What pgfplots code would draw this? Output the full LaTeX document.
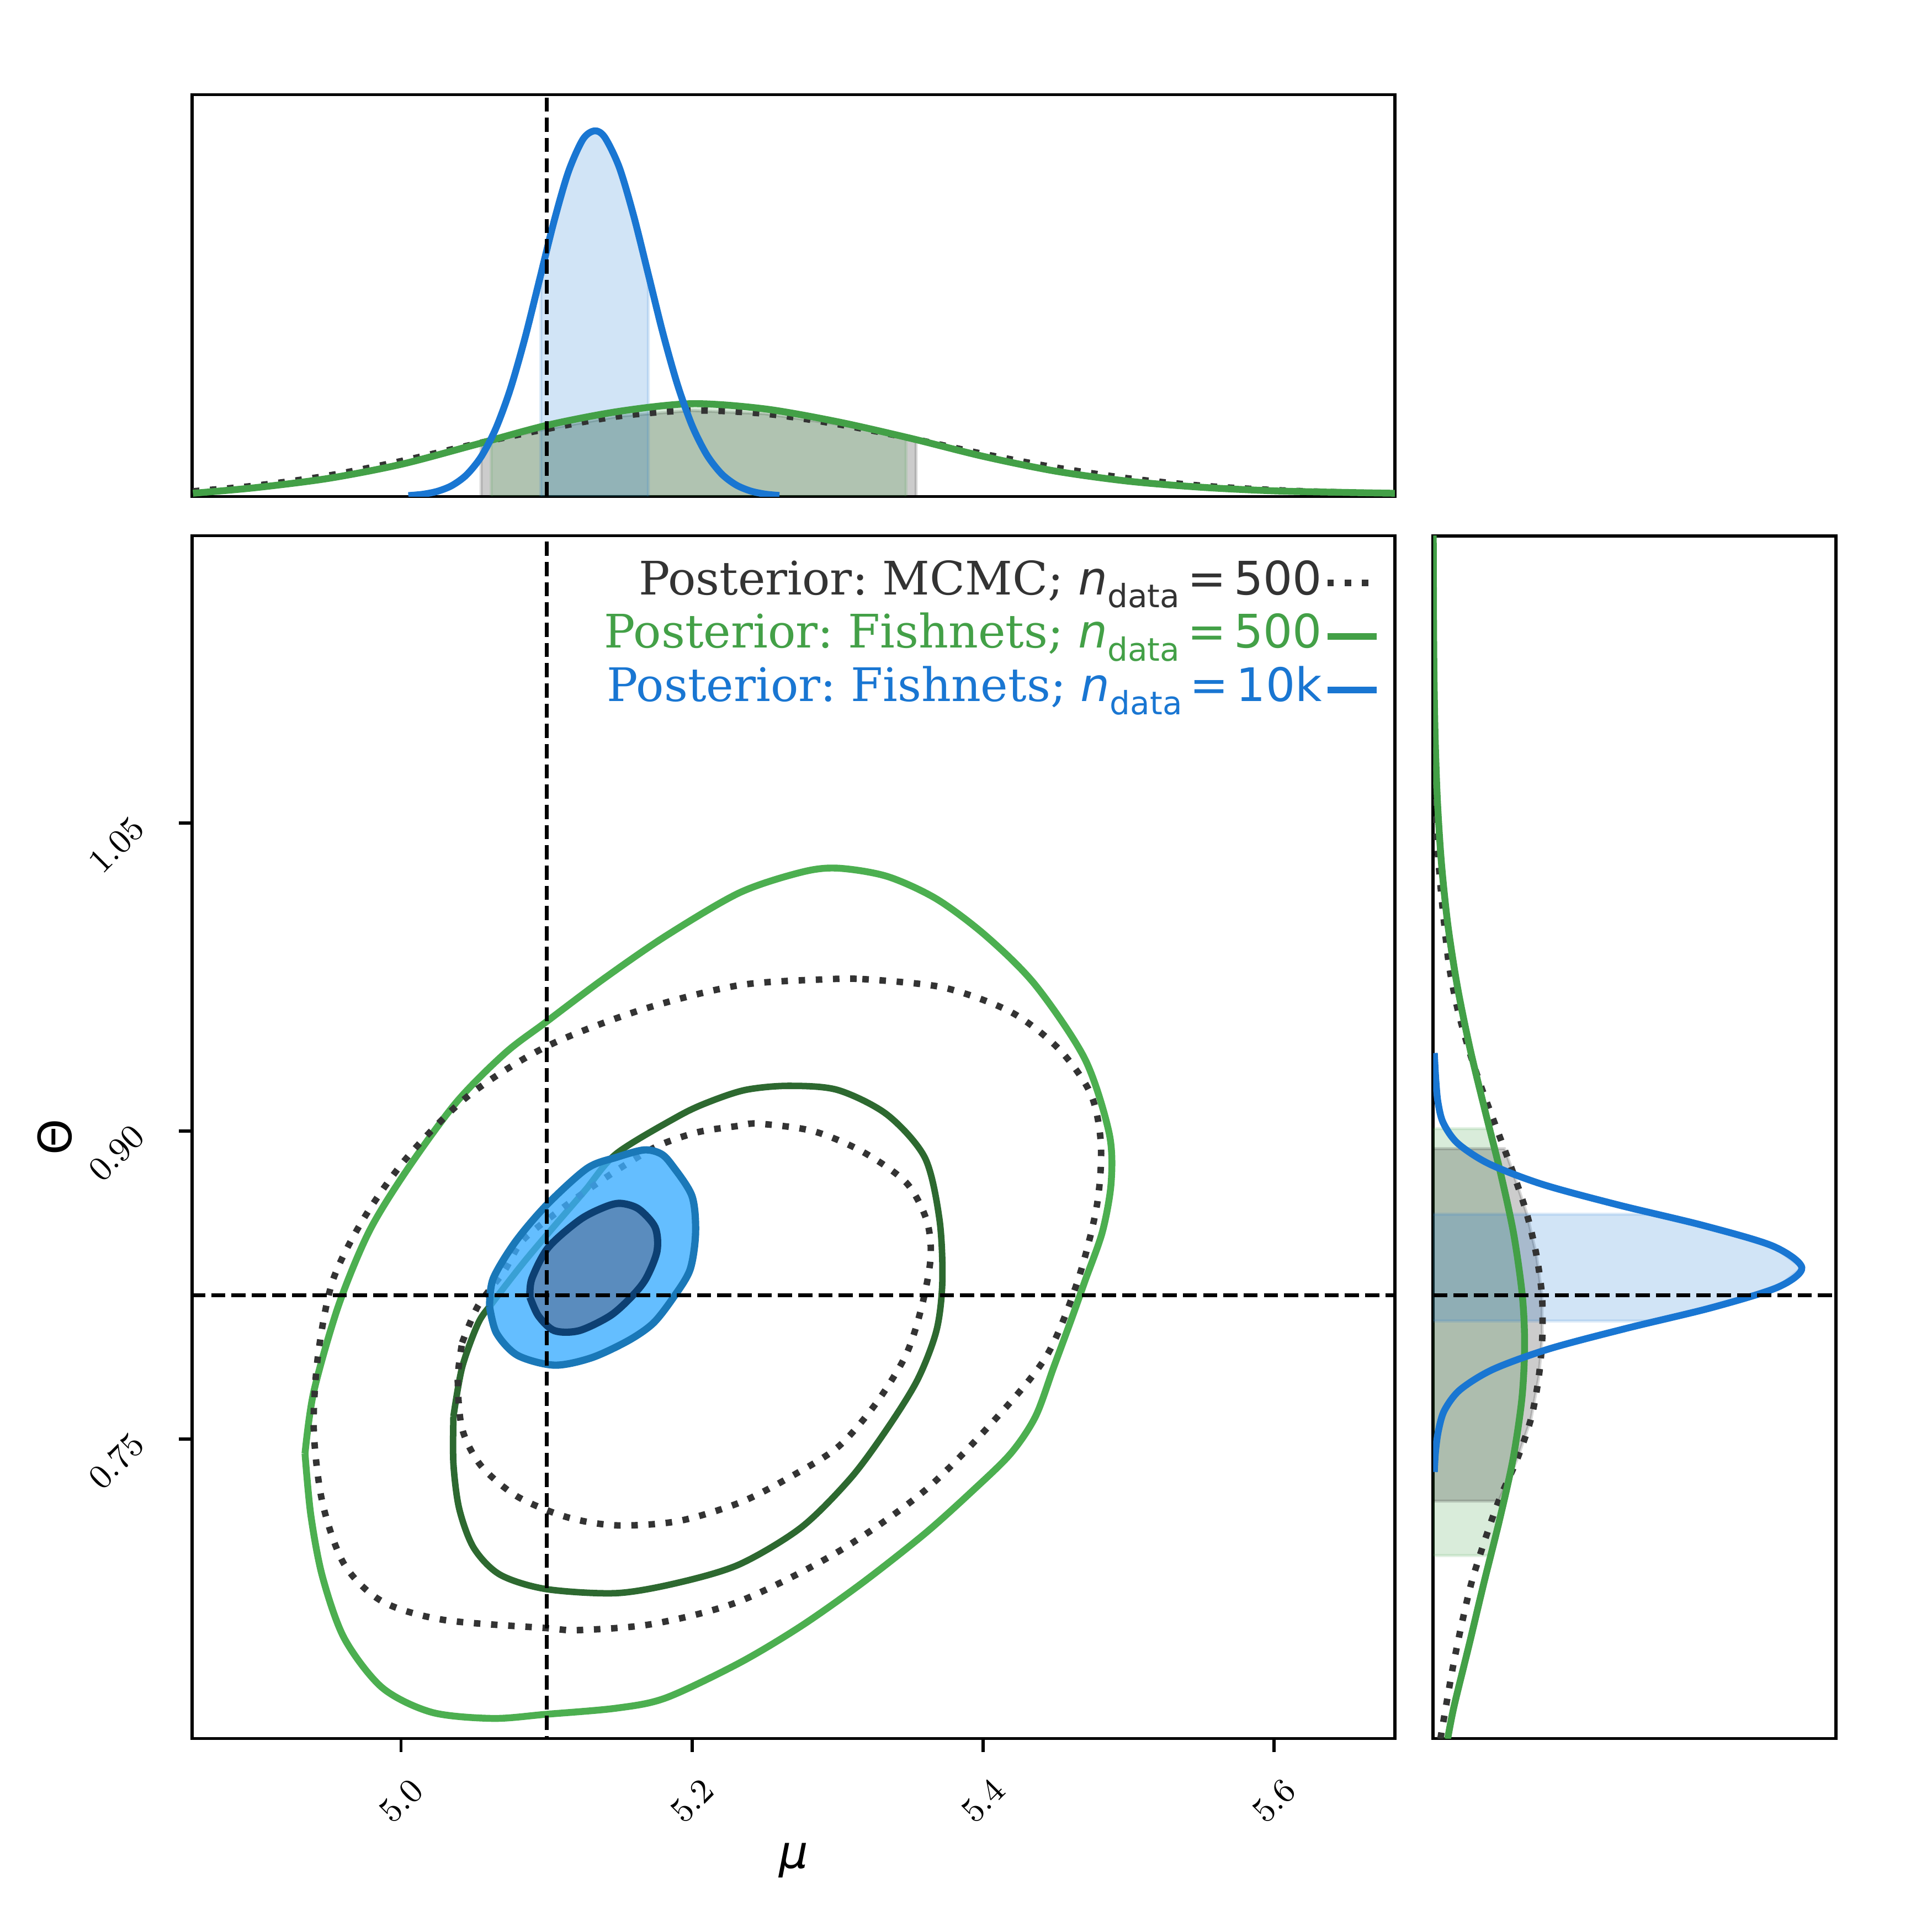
\documentclass[border=0pt]{standalone}
\usepackage{fontspec}
\setmainfont{DejaVu Serif}
\newfontfamily\dvs{DejaVu Sans}
\usepackage{pgfplots}
\pgfplotsset{compat=1.18}
\frenchspacing

\definecolor{mcmc}{RGB}{51,51,51}
\definecolor{fishgreen}{RGB}{67,160,71}
\definecolor{fishblue}{RGB}{25,118,210}
\definecolor{ctrgreen}{RGB}{76,175,80}
\definecolor{ctrdkgreen}{RGB}{45,105,48}
\definecolor{bluefillA}{RGB}{61,174,255}
\definecolor{blueedgeA}{RGB}{26,120,184}
\definecolor{bluefillB}{RGB}{90,140,190}
\definecolor{blueedgeB}{RGB}{13,64,115}

\newcommand{\ndata}[1]{{\dvs\itshape n}\raisebox{-0.28em}{\dvs\fontsize{8.4}{9}\selectfont data}{\dvs\,=\,#1}}

\pgfplotsset{
  panel/.style={scale only axis, axis line style={line width=0.8pt}, tick style={black, line width=0.8pt}},
  mcmcline/.style={mcmc, line width=1.7pt, dash pattern=on 1.7pt off 2.8pt},
  truth/.style={black, line width=1pt, dash pattern=on 3.7pt off 1.6pt},
}

\begin{document}
\begin{tikzpicture}
\path[use as bounding box] (-50.33pt,-50.65pt) rectangle (455.5pt,455.2pt);

% ---------------- main 2D panel ----------------
\begin{axis}[panel,
  at={(0pt,0pt)}, anchor=south west,
  width=314.9pt, height=314.9pt,
  xmin=4.8565, xmax=5.683, ymin=0.6042, ymax=1.1898,
  xtick={5.0,5.2,5.4,5.6}, ytick={0.75,0.90,1.05},
  tick align=outside, xtick pos=left, ytick pos=left,
  major tick length=3.5pt,
  xticklabel style={/pgf/number format/fixed, /pgf/number format/fixed zerofill, /pgf/number format/precision=1,
    font=\fontsize{9}{10}\selectfont, yshift=-12.8pt, rotate=45, anchor=center},
  yticklabel style={/pgf/number format/fixed, /pgf/number format/fixed zerofill, /pgf/number format/precision=2,
    font=\fontsize{9}{10}\selectfont, xshift=-16.3pt, yshift=-5.8pt, rotate=45, anchor=center},
  xlabel={{\dvs\itshape μ}}, ylabel={{\dvs Θ}},
  xlabel style={at={(axis description cs:0.5,-0.1016)}, anchor=center, font=\fontsize{12}{14}\selectfont},
  ylabel style={at={(axis description cs:-0.1143,0.5)}, anchor=center, font=\fontsize{12}{14}\selectfont},
  legend cell align=right, legend plot pos=right,
  legend image code/.code={\draw[#1] (0pt,0pt) -- (12.9pt,0pt);},
  legend style={at={(axis description cs:0.9883,0.982)}, anchor=north east, draw=none, fill=none,
    inner sep=0pt, row sep=1pt, column sep=0.5pt, font=\fontsize{12.1}{14}\selectfont,
    nodes={inner sep=0pt, text height=9.5pt, text depth=3.5pt}},
]
\addlegendimage{mcmcline}
\addlegendentry{\textcolor{mcmc}{Posterior: MCMC; \ndata{500}}}
\addlegendimage{fishgreen, line width=1.8pt}
\addlegendentry{\textcolor{fishgreen}{Posterior: Fishnets; \ndata{500}}}
\addlegendimage{fishblue, line width=1.8pt}
\addlegendentry{\textcolor{fishblue}{Posterior: Fishnets; \ndata{10k}}}

% Fishnets n=500, outer contour
\addplot[ctrgreen, line width=1.8pt, smooth, forget plot] coordinates {
(4.934,0.743) (4.938,0.713) (4.946,0.683) (4.961,0.653) (4.987,0.629) (5.021,0.617)
(5.063,0.614) (5.0995,0.616) (5.148,0.619) (5.182,0.624) (5.2325,0.641) (5.275,0.659)
(5.317,0.680) (5.360,0.704) (5.393,0.725) (5.419,0.743) (5.436,0.761) (5.4485,0.785)
(5.461,0.809) (5.470,0.827) (5.482,0.851) (5.488,0.875) (5.4866,0.899) (5.470,0.935)
(5.436,0.971) (5.402,0.995) (5.368,1.013) (5.334,1.024) (5.300,1.028) (5.275,1.026)
(5.2325,1.016) (5.182,0.995) (5.139,0.974) (5.0995,0.953) (5.0716,0.938) (5.038,0.914)
(5.004,0.881) (4.978,0.851) (4.957,0.815) (4.940,0.773) (4.934,0.743)
};
% Fishnets n=500, inner contour
\addplot[ctrdkgreen, line width=1.7pt, smooth, forget plot] coordinates {
(5.036,0.761) (5.042,0.785) (5.053,0.8064) (5.063,0.8166) (5.084,0.8358) (5.1047,0.8532)
(5.1266,0.8712) (5.148,0.889) (5.190,0.907) (5.211,0.914) (5.2366,0.920) (5.266,0.922)
(5.300,0.920) (5.334,0.908) (5.360,0.887) (5.370,0.857) (5.372,0.827) (5.368,0.803)
(5.355,0.779) (5.334,0.755) (5.309,0.731) (5.275,0.707) (5.2325,0.689) (5.190,0.680)
(5.148,0.675) (5.0995,0.677) (5.068,0.684) (5.050,0.697) (5.040,0.716) (5.036,0.738)
(5.036,0.761)
};
% MCMC outer contour
\addplot[mcmcline, smooth, forget plot] coordinates {
(5.317,0.974) (5.372,0.970) (5.419,0.958) (5.452,0.940) (5.474,0.918) (5.481,0.893)
(5.478,0.863) (5.465,0.827) (5.444,0.791) (5.410,0.761) (5.360,0.725) (5.300,0.695)
(5.2325,0.671) (5.173,0.660) (5.122,0.657) (5.0995,0.658) (5.029,0.662) (4.987,0.671)
(4.961,0.689) (4.946,0.719) (4.940,0.755) (4.943,0.791) (4.953,0.827) (4.974,0.857)
(5.004,0.887) (5.046,0.917) (5.0995,0.941) (5.165,0.959) (5.2325,0.971) (5.296,0.974)
(5.317,0.974)
};
% MCMC inner contour
\addplot[mcmcline, smooth, forget plot] coordinates {
(5.042,0.797) (5.053,0.815) (5.0707,0.8316) (5.0834,0.8466) (5.1071,0.8604) (5.1292,0.8718)
(5.1520,0.8826) (5.1766,0.8928) (5.2037,0.8994) (5.2308,0.9024) (5.2452,0.9036) (5.283,0.900)
(5.317,0.890) (5.347,0.875) (5.361,0.857) (5.364,0.839) (5.358,0.815) (5.347,0.791)
(5.326,0.767) (5.300,0.746) (5.266,0.731) (5.2325,0.719) (5.190,0.710) (5.148,0.708)
(5.114,0.712) (5.080,0.722) (5.055,0.737) (5.042,0.755) (5.039,0.779) (5.042,0.797)
};
% Fishnets n=10k, filled contours
\addplot[fill=bluefillA, fill opacity=0.8, draw=blueedgeA, line width=1.9pt, smooth, forget plot] coordinates {
(5.0608,0.8146) (5.0633,0.8281) (5.0785,0.846) (5.0999,0.8639) (5.1278,0.8818) (5.148,0.8872)
(5.167,0.8908) (5.1784,0.889) (5.186,0.8836) (5.1999,0.8684) (5.2024,0.8504) (5.1986,0.8325)
(5.1873,0.8191) (5.1734,0.8065) (5.1563,0.798) (5.1309,0.7896) (5.1054,0.786) (5.080,0.7908)
(5.0656,0.8016) (5.0608,0.8146)
};
\addplot[fill=bluefillB, draw=blueedgeB, line width=1.9pt, smooth, forget plot] coordinates {
(5.0886,0.8191) (5.0899,0.8281) (5.1012,0.8433) (5.1227,0.8567) (5.1393,0.8628) (5.1506,0.8648)
(5.1632,0.8621) (5.1746,0.8531) (5.1759,0.8415) (5.1683,0.8281) (5.1581,0.8191) (5.1436,0.810)
(5.1224,0.8028) (5.1054,0.8028) (5.0944,0.810) (5.0886,0.8191)
};
% true values
\addplot[truth, forget plot] coordinates {(5.1,0.5) (5.1,1.3)};
\addplot[truth, forget plot] coordinates {(4.8,0.82) (5.8,0.82)};
\end{axis}

% ---------------- top marginal (mu) ----------------
\begin{axis}[panel,
  at={(0pt,325.2pt)}, anchor=south west,
  width=314.9pt, height=105.2pt,
  xmin=4.8565, xmax=5.683, ymin=0, ymax=1,
  xtick=\empty, ytick=\empty,
]
\addplot[fill=black, fill opacity=0.2, draw=black, draw opacity=0.15, line width=0.8pt] coordinates {
(5.055,0) (5.055,0.134) (5.10,0.168) (5.15,0.200) (5.20,0.214) (5.25,0.206) (5.30,0.180)
(5.35,0.145) (5.354,0.142) (5.354,0)
};
\addplot[fill=fishgreen, fill opacity=0.2, draw=fishgreen, draw opacity=0.15, line width=0.8pt] coordinates {
(5.062,0) (5.062,0.140) (5.10,0.177) (5.15,0.212) (5.20,0.231) (5.25,0.218) (5.30,0.186)
(5.347,0.148) (5.347,0)
};
\addplot[fill=fishblue, fill opacity=0.2, draw=fishblue, draw opacity=0.15, line width=0.8pt] coordinates {
(5.096,0) (5.096,0.552) (5.105,0.683) (5.115,0.808) (5.125,0.889) (5.133,0.910) (5.140,0.894)
(5.150,0.819) (5.160,0.697) (5.170,0.552) (5.170,0)
};
\addplot[mcmcline, smooth] coordinates {
(4.857,0.013) (4.90,0.027) (4.95,0.052) (5.00,0.088) (5.05,0.130) (5.10,0.168) (5.15,0.200)
(5.20,0.214) (5.25,0.206) (5.30,0.180) (5.35,0.145) (5.40,0.106) (5.45,0.072) (5.50,0.045)
(5.55,0.027) (5.60,0.016) (5.65,0.010) (5.683,0.008)
};
\addplot[fishgreen, line width=1.8pt, smooth] coordinates {
(4.857,0.008) (4.90,0.022) (4.95,0.045) (5.00,0.080) (5.05,0.128) (5.10,0.177) (5.15,0.212)
(5.20,0.231) (5.25,0.218) (5.30,0.186) (5.35,0.145) (5.40,0.100) (5.45,0.063) (5.50,0.038)
(5.55,0.023) (5.60,0.014) (5.65,0.010) (5.683,0.008)
};
\addplot[fishblue, line width=1.8pt, smooth] coordinates {
(5.005,0.0023) (5.015,0.0056) (5.025,0.0129) (5.035,0.0273) (5.045,0.0538) (5.055,0.0987)
(5.065,0.168) (5.075,0.266) (5.085,0.392) (5.095,0.537) (5.105,0.683) (5.115,0.808)
(5.125,0.889) (5.133,0.910) (5.140,0.894) (5.150,0.819) (5.160,0.697) (5.170,0.552)
(5.180,0.406) (5.190,0.278) (5.200,0.1765) (5.210,0.1044) (5.220,0.0573) (5.230,0.0293)
(5.240,0.0139) (5.250,0.0061) (5.260,0.0025)
};
\addplot[truth] coordinates {(5.1,-0.1) (5.1,1.1)};
\end{axis}

% ---------------- right marginal (Theta) ----------------
\begin{axis}[panel,
  at={(324.9pt,0pt)}, anchor=south west,
  width=105.5pt, height=314.9pt,
  xmin=0, xmax=1, ymin=0.6042, ymax=1.1898,
  xtick=\empty, ytick=\empty,
]
\addplot[fill=fishgreen, fill opacity=0.2, draw=fishgreen, draw opacity=0.15, line width=0.8pt] coordinates {
(0,0.6933) (0.143,0.6933) (0.164,0.71) (0.198,0.74) (0.2204,0.77) (0.227,0.796) (0.2213,0.82)
(0.1998,0.85) (0.1668,0.88) (0.140,0.9012) (0,0.9012)
};
\addplot[fill=black, fill opacity=0.2, draw=black, draw opacity=0.15, line width=0.8pt] coordinates {
(0,0.7198) (0.163,0.7198) (0.208,0.74) (0.243,0.76) (0.262,0.78) (0.271,0.80) (0.270,0.82)
(0.256,0.84) (0.232,0.86) (0.198,0.88) (0.177,0.8914) (0,0.8914)
};
\addplot[fill=fishblue, fill opacity=0.2, draw=fishblue, draw opacity=0.15, line width=0.8pt] coordinates {
(0,0.8075) (0.555,0.8075) (0.691,0.814) (0.856,0.824) (0.915,0.8335) (0.843,0.844)
(0.671,0.854) (0.555,0.8595) (0,0.8595)
};
\addplot[mcmcline, smooth] coordinates {
(0.018,0.604) (0.032,0.62) (0.050,0.64) (0.071,0.66) (0.095,0.68) (0.127,0.70) (0.163,0.72)
(0.208,0.74) (0.243,0.76) (0.262,0.78) (0.271,0.80) (0.270,0.82) (0.256,0.84) (0.232,0.86)
(0.198,0.88) (0.160,0.90) (0.122,0.92) (0.088,0.94) (0.060,0.96) (0.040,0.98) (0.028,1.00)
(0.018,1.02) (0.010,1.04) (0.005,1.06) (0.002,1.08) (0.001,1.10)
};
\addplot[fishgreen, line width=1.8pt, smooth] coordinates {
(0.036,0.604) (0.052,0.62) (0.0895,0.65) (0.126,0.68) (0.164,0.71) (0.198,0.74) (0.2204,0.77)
(0.227,0.796) (0.2213,0.82) (0.1998,0.85) (0.1668,0.88) (0.1287,0.91) (0.0917,0.94)
(0.0605,0.97) (0.0368,1.00) (0.0208,1.03) (0.0108,1.06) (0.0052,1.09) (0.0023,1.12)
(0.0010,1.15) (0.0003,1.19)
};
\addplot[fishblue, line width=1.8pt, smooth] coordinates {
(0.003,0.734) (0.006,0.744) (0.013,0.754) (0.028,0.764) (0.0667,0.774) (0.149,0.784)
(0.289,0.794) (0.481,0.804) (0.691,0.814) (0.856,0.824) (0.915,0.8335) (0.843,0.844)
(0.671,0.854) (0.460,0.864) (0.272,0.874) (0.139,0.884) (0.061,0.894) (0.025,0.904)
(0.012,0.914) (0.007,0.924) (0.004,0.934) (0.003,0.938)
};
\addplot[truth] coordinates {(-0.1,0.82) (1.1,0.82)};
\end{axis}
\end{tikzpicture}
\end{document}
